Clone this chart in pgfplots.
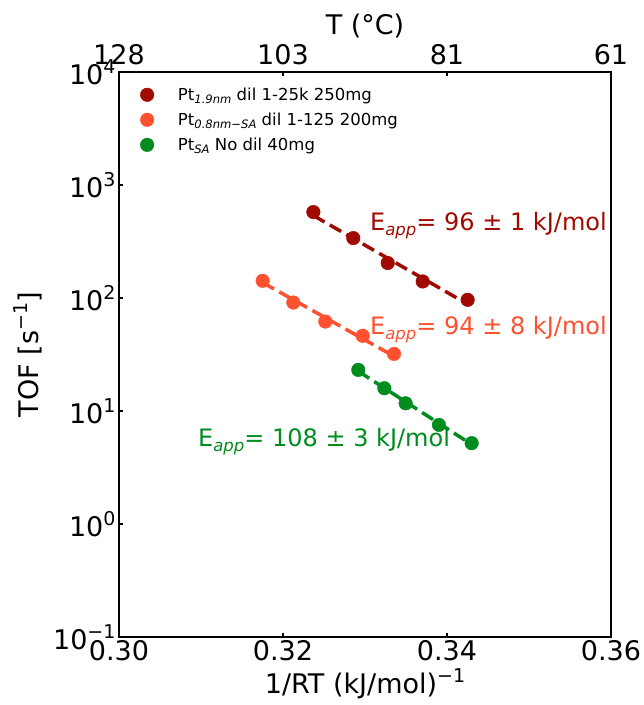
\documentclass[border=0pt]{standalone}
\usepackage{fontspec}
\setmainfont{DejaVu Sans}
\usepackage{pgfplots}
\pgfplotsset{compat=1.18}

\definecolor{ptlarge}{HTML}{A00A00}
\definecolor{ptsmall}{HTML}{FF5030}
\definecolor{ptsa}{HTML}{008C1E}

% superscripts and italic subscripts in the style of mathtext
\newcommand\supr[1]{\raisebox{0.42em}{\fontsize{19}{19}\selectfont #1}}
\newcommand\subr[1]{\raisebox{-0.22em}{\fontsize{16.5}{17}\selectfont\itshape #1}}
\newcommand\subl[1]{\raisebox{-0.22em}{\fontsize{11.6}{12}\selectfont\itshape #1}}

\begin{document}
\begin{tikzpicture}
\useasboundingbox (-119pt,-68pt) rectangle (525pt,637pt);
\begin{axis}[
  at={(0,0)}, anchor=south west,
  scale only axis, width=492pt, height=565pt,
  xmin=0.30, xmax=0.36, ymode=log, ymin=0.1, ymax=10000,
  xtick={0.30,0.32,0.34,0.36}, xticklabels={0.30,0.32,0.34,0.36},
  ytick={0.1,1,10,100,1000,10000},
  yticklabels={10\supr{−1},10\supr{0},10\supr{1},10\supr{2},10\supr{3},10\supr{4}},
  yminorticks=false, xminorticks=false,
  xtick pos=lower, ytick pos=left,
  tick align=inside, major tick length=4pt,
  tick style={line width=1.2pt, black},
  axis line style={line width=2.5pt},
  ticklabel style={font=\fontsize{27}{32}\selectfont},
  label style={font=\fontsize{27}{32}\selectfont},
  xlabel={1/RT (kJ/mol)\supr{−1}},
  ylabel={TOF [s\supr{−1}]},
  xlabel style={at={(axis description cs:0.5,-0.083)}, anchor=center},
  ylabel style={at={(axis description cs:-0.185,0.5)}, anchor=center},
  legend cell align=left,
  legend image code/.code={\draw[mark repeat=2,mark phase=2,#1]
    plot coordinates {(0pt,0pt) (8pt,0pt) (16pt,0pt)};},
  legend style={draw=none, fill=none, font=\fontsize{16.5}{19}\selectfont,
    at={(axis description cs:0.043,0.976)}, anchor=north west,
    row sep=7pt, inner sep=0pt,
    /tikz/every odd column/.append style={column sep=22pt}},
]
% measured turnover frequencies
\addplot[only marks, mark=*, mark size=6.8pt, color=ptlarge] coordinates {
  (0.32370,576) (0.32857,339) (0.33277,204) (0.33704,140) (0.34252,96.4)};
\addlegendentry{Pt\subl{1.9nm} dil 1-25k 250mg}
\addplot[only marks, mark=*, mark size=6.8pt, color=ptsmall] coordinates {
  (0.31752,142) (0.32126,91.2) (0.32516,61.9) (0.32972,46.3) (0.33354,32.0)};
\addlegendentry{Pt\subl{0.8nm−SA} dil 1-125 200mg}
\addplot[only marks, mark=*, mark size=6.8pt, color=ptsa] coordinates {
  (0.32918,23.1) (0.33236,15.9) (0.33496,11.7) (0.33902,7.54) (0.34301,5.19)};
\addlegendentry{Pt\subl{SA} No dil 40mg}

% Arrhenius fits
\addplot[forget plot, ptlarge, line width=3.5pt, dash pattern=on 13pt off 6pt] coordinates {
  (0.32370,537) (0.34252,88.2)};
\addplot[forget plot, ptsmall, line width=3.5pt, dash pattern=on 13pt off 6pt] coordinates {
  (0.31752,137) (0.33354,30.5)};
\addplot[forget plot, ptsa, line width=3.5pt, dash pattern=on 13pt off 6pt] coordinates {
  (0.32918,22.5) (0.34301,5.05)};

\node[anchor=west, text=ptlarge, font=\fontsize{24}{28}\selectfont, inner sep=0pt, yshift=-4pt]
  at (axis cs:0.33061,472.7) {E\subr{app}= 96 ± 1 kJ/mol};
\node[anchor=west, text=ptsmall, font=\fontsize{24}{28}\selectfont, inner sep=0pt, yshift=-4pt]
  at (axis cs:0.33061,56.7) {E\subr{app}= 94 ± 8 kJ/mol};
\node[anchor=west, text=ptsa, font=\fontsize{24}{28}\selectfont, inner sep=0pt, yshift=-4pt]
  at (axis cs:0.30963,5.78) {E\subr{app}= 108 ± 3 kJ/mol};
\end{axis}

% temperature scale along the top
\begin{axis}[
  at={(0,0)}, anchor=south west,
  scale only axis, width=492pt, height=565pt,
  xmin=0.30, xmax=0.36, ymin=0, ymax=1,
  axis x line*=top, axis y line=none,
  xtick={0.30,0.32,0.34,0.36}, xticklabels={128,103,81,61},
  xminorticks=false,
  tick align=inside, major tick length=4pt,
  tick style={line width=1.2pt, black},
  axis line style={line width=2.5pt},
  ticklabel style={font=\fontsize{27}{32}\selectfont},
  xticklabel style={yshift=4pt},
  label style={font=\fontsize{27}{32}\selectfont},
  xlabel={T (°C)},
  xlabel style={at={(axis description cs:0.5,1.081)}, anchor=center},
]
\end{axis}
\end{tikzpicture}
\end{document}
